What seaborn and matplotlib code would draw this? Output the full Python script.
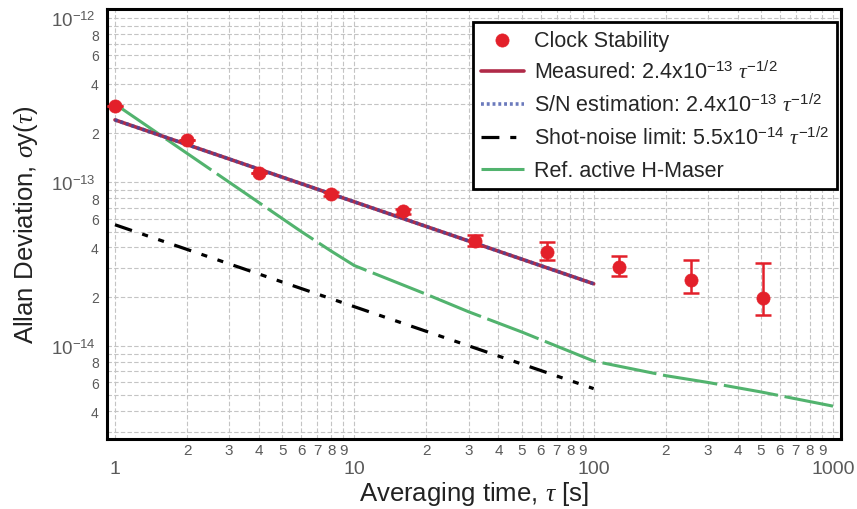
import numpy as np
import pandas as pd
import matplotlib
matplotlib.use("Agg")
import matplotlib.pyplot as plt
import seaborn as sns
from matplotlib.ticker import FixedLocator, FixedFormatter

# ---------------- data ----------------
tau_pts = [1, 2, 4, 8, 16, 32, 64, 128, 256, 512]
sigma_pts = [2.9e-13, 1.80e-13, 1.135e-13, 8.45e-14, 6.65e-14, 4.36e-14, 3.74e-14, 3.03e-14, 2.52e-14, 1.96e-14]
sigma_lo = [2.9e-13, 1.80e-13, 1.135e-13, 8.2e-14, 6.4e-14, 4.07e-14, 3.35e-14, 2.67e-14, 2.10e-14, 1.54e-14]
sigma_hi = [2.9e-13, 1.80e-13, 1.135e-13, 8.7e-14, 6.9e-14, 4.75e-14, 4.30e-14, 3.54e-14, 3.35e-14, 3.20e-14]

tau_fit = [1, 100]
measured_coef = 2.4e-13
sn_coef = 2.4e-13
shot_coef = 5.5e-14

tau_maser = [1, 2, 4, 6, 8, 10, 20, 30, 50, 70, 100, 200, 300, 500, 1000]
sigma_maser = [3.0e-13, 1.5e-13, 7.5e-14, 5.0e-14, 3.8e-14, 3.1e-14, 2.07e-14, 1.62e-14,
               1.22e-14, 1.0e-14, 8.1e-15, 6.6e-15, 6.0e-15, 5.25e-15, 4.3e-15]

x_major = [1, 10, 100, 1000]
x_major_labels = ["1", "10", "100", "1000"]
y_major = [1e-14, 1e-13, 1e-12]
y_major_labels = [r"10$^{-14}$", r"10$^{-13}$", r"10$^{-12}$"]

labels = ["Clock Stability",
          r"Measured: 2.4x10$^{-13}$ $\tau^{-1/2}$",
          r"S/N estimation: 2.4x10$^{-13}$ $\tau^{-1/2}$",
          r"Shot-noise limit: 5.5x10$^{-14}$ $\tau^{-1/2}$",
          "Ref. active H-Maser"]

# -------------- build frames --------------
tf = np.array(tau_fit, dtype=float)
df_meas = pd.DataFrame({"tau": tf, "s": measured_coef * tf ** -0.5})
df_sn = pd.DataFrame({"tau": tf, "s": sn_coef * tf ** -0.5})
df_shot = pd.DataFrame({"tau": tf, "s": shot_coef * tf ** -0.5})
df_maser = pd.DataFrame({"tau": tau_maser, "s": sigma_maser})
df_pts = pd.DataFrame({"tau": tau_pts, "s": sigma_pts, "lo": sigma_lo, "hi": sigma_hi})

sns.set_style("white")
plt.rcParams["font.family"] = ["Liberation Sans", "DejaVu Sans"]
plt.rcParams["mathtext.fontset"] = "custom"
plt.rcParams["mathtext.rm"] = "Liberation Sans"
plt.rcParams["mathtext.it"] = "Liberation Serif:italic"
plt.rcParams["mathtext.bf"] = "Liberation Sans:bold"

fig = plt.figure(figsize=(8.57, 5.10), dpi=100)
ax = fig.add_axes([107 / 857, 1 - 440 / 510, (841 - 107) / 857, (440 - 10) / 510])

red = "#e3202a"
green = "#52b36e"
blue = "#3a4ea6"

sns.lineplot(data=df_maser, x="tau", y="s", ax=ax, color=green, lw=2.2,
             linestyle=(0, (18, 2.2)), label=labels[4], zorder=3, estimator=None)
sns.lineplot(data=df_shot, x="tau", y="s", ax=ax, color="black", lw=2.3,
             linestyle=(0, (5.6, 3.4, 1.9, 3.4, 1.9, 3.4)), label=labels[3], zorder=3, estimator=None)
sns.lineplot(data=df_meas, x="tau", y="s", ax=ax, color="#b02a48", lw=2.6,
             label=labels[1], zorder=4, estimator=None)
sns.lineplot(data=df_sn, x="tau", y="s", ax=ax, color=blue, lw=2.6, alpha=0.75,
             linestyle=(0, (0.8, 0.8)), label=labels[2], zorder=5, estimator=None)

ax.errorbar(df_pts["tau"], df_pts["s"],
            yerr=[df_pts["s"] - df_pts["lo"], df_pts["hi"] - df_pts["s"]],
            fmt="none", ecolor=red, elinewidth=1.8, capsize=5.5, capthick=1.8, zorder=6)
sns.scatterplot(data=df_pts, x="tau", y="s", ax=ax, color=red, s=90, edgecolor=red,
                linewidth=0.5, label=labels[0], zorder=7)

ax.set_xscale("log")
ax.set_yscale("log")
xlo, xhi = 0.926, 1080
ylo, yhi = 2.71e-15, 1.14e-12
ax.set_xlim(xlo, xhi)
ax.set_ylim(ylo, yhi)

gray = "#5a5a5a"
# x ticks
x_minor = [d * 10 ** e for e in range(0, 3) for d in range(2, 10)]
ax.xaxis.set_major_locator(FixedLocator(x_major))
ax.xaxis.set_major_formatter(FixedFormatter(x_major_labels))
ax.xaxis.set_minor_locator(FixedLocator(x_minor))
ax.xaxis.set_minor_formatter(FixedFormatter([str(d) for e in range(0, 3) for d in range(2, 10)]))
ax.tick_params(axis="x", which="major", direction="in", length=11, width=2, labelsize=14,
               labelcolor=gray, pad=15)
ax.tick_params(axis="x", which="minor", direction="in", length=6, width=1.8, labelsize=11,
               labelcolor=gray, pad=3)
# y ticks
y_minor_vals, y_minor_labs = [], []
for e in (-15, -14, -13):
    for d in range(2, 10):
        v = d * 10.0 ** e
        if ylo < v < yhi:
            y_minor_vals.append(v)
            y_minor_labs.append(str(d) if d in (2, 4, 6, 8) else "")
ax.yaxis.set_major_locator(FixedLocator(y_major))
ax.yaxis.set_major_formatter(FixedFormatter(y_major_labels))
ax.yaxis.set_minor_locator(FixedLocator(y_minor_vals))
ax.yaxis.set_minor_formatter(FixedFormatter(y_minor_labs))
ax.tick_params(axis="y", which="major", direction="in", length=12, width=2, labelsize=13.5,
               labelcolor=gray, pad=8)
ax.tick_params(axis="y", which="minor", direction="inout", length=10, width=1.8, labelsize=10,
               labelcolor=gray, pad=1)

ax.grid(True, which="both", color="#c4c4c4", linestyle=(0, (4, 2)), linewidth=0.8)
ax.set_axisbelow(True)
for sp in ax.spines.values():
    sp.set_color("black")
    sp.set_linewidth(2.2)

ax.set_xlabel(r"Averaging time, $\tau$ [s]", fontsize=18.5, color="#222222")
ax.set_ylabel(r"Allan Deviation, $\sigma$y($\tau$)", fontsize=18.5, color="#222222")
ax.xaxis.set_label_coords(0.5, -(480 - 440) / 430)
ax.yaxis.set_label_coords(-(107 - 40) / 734, 0.5)

handles, labs = ax.get_legend_handles_labels()
order = [labs.index(l) for l in labels]
leg = ax.legend([handles[i] for i in order], [labs[i] for i in order],
                loc="upper right", bbox_to_anchor=(0.9946, 0.9698), borderaxespad=0,
                fontsize=15.5, frameon=True, fancybox=False, framealpha=1,
                edgecolor="black", handlelength=2.0, labelspacing=0.5, handletextpad=0.5,
                borderpad=0.35)
leg.get_frame().set_linewidth(2)

fig.savefig("out.png", dpi=100)
